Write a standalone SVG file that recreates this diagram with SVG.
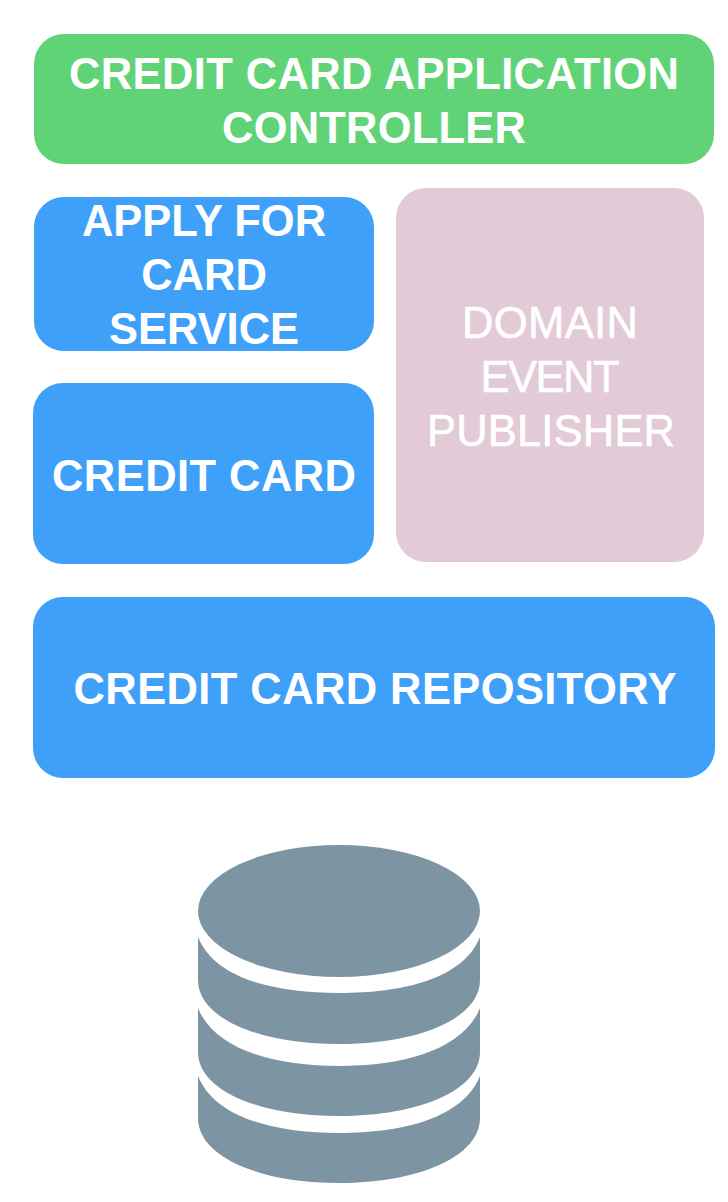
<svg xmlns="http://www.w3.org/2000/svg" width="728" height="1202" viewBox="0 0 728 1202">
<style>
text{font-family:"Liberation Sans",Arial,sans-serif;font-weight:700;font-size:43.5px;fill:#fff;text-anchor:middle}
.r{font-weight:400;stroke:#fff;stroke-width:.6px}
.b{fill:#3fa0fa}
</style>
<rect width="728" height="1202" fill="#fff"/>
<g id="controller"><rect x="34" y="34" width="680" height="130" rx="30" fill="#61d377"/>
<text x="374" y="89" textLength="610" lengthAdjust="spacing">CREDIT CARD APPLICATION</text><text x="374" y="143" textLength="304" lengthAdjust="spacing">CONTROLLER</text></g>
<g id="service"><rect class="b" x="34" y="197" width="340" height="154" rx="30"/>
<text x="204" y="236">APPLY FOR</text><text x="204" y="290">CARD</text><text x="204" y="344">SERVICE</text></g>
<g id="card"><rect class="b" x="33" y="383" width="341" height="181" rx="30"/>
<text x="204" y="491" textLength="304" lengthAdjust="spacing">CREDIT CARD</text></g>
<g id="publisher"><rect x="396" y="188" width="308" height="374" rx="30" fill="#e2cad6"/>
<text class="r" x="550" y="338" textLength="176" lengthAdjust="spacing">DOMAIN</text><text class="r" x="550" y="392" textLength="139" lengthAdjust="spacing">EVENT</text><text class="r" x="551" y="446" textLength="248" lengthAdjust="spacing">PUBLISHER</text></g>
<g id="repository"><rect class="b" x="33" y="597" width="682" height="181" rx="30"/>
<text x="375" y="704" textLength="603" lengthAdjust="spacing">CREDIT CARD REPOSITORY</text></g>
<g id="database" fill="#7d94a2">
<ellipse cx="339" cy="911" rx="141" ry="66"/>
<path d="M198 937C215 979 275 993 339 993S463 979 480 937V980C480 1018 420 1044 339 1044S198 1018 198 980Z"/>
<path d="M198 1008C215 1050 275 1066 339 1066S463 1050 480 1008V1052C480 1090 420 1116 339 1116S198 1090 198 1052Z"/>
<path d="M198 1076C215 1118 275 1133 339 1133S463 1118 480 1076V1118C480 1156 420 1183 339 1183S198 1156 198 1118Z"/>
</g>
</svg>
